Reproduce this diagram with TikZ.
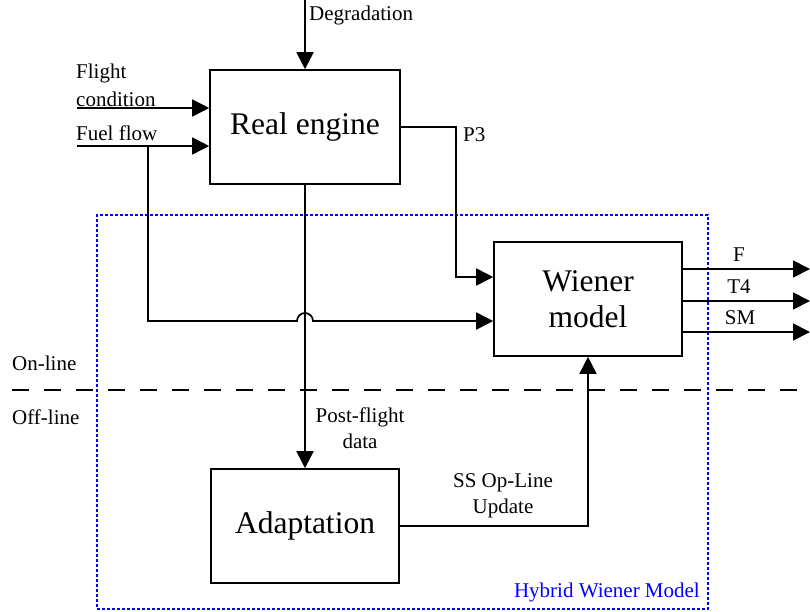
\documentclass[tikz,border=0pt]{standalone}
\usepackage{fontspec}
\setmainfont{Liberation Serif}
\usetikzlibrary{arrows.meta,calc}
\begin{document}
\begin{tikzpicture}[x=1pt,y=-1pt,
  blockbox/.style={draw,line width=1.6pt,inner sep=0pt,
    minimum width=188pt,minimum height=114pt,
    font=\fontsize{31.5}{36}\selectfont,align=center},
  arr/.style={line width=1.7pt,-{Triangle[length=17pt,width=17pt]}},
  lbl/.style={font=\fontsize{21}{26}\selectfont,inner sep=0pt,align=center}]
\useasboundingbox (0,0) rectangle (810,611);

% blocks
\node[blockbox,minimum width=190pt] (re) at (305,127) {Real engine};
\node[blockbox] (wm) at (588,299) {Wiener\\model};
\node[blockbox] (ad) at (305,526) {Adaptation};

% hybrid model frame
\node[draw=blue,line width=1.5pt,dash pattern=on 3pt off 2pt,
      minimum width=611pt,minimum height=394pt,inner sep=0pt] (hy) at (402.5,412) {};
\node[lbl,text=blue,anchor=east] (hyl) at (700,592) {Hybrid Wiener Model};

% on-line / off-line separator
\coordinate (sepL) at (12,390);
\coordinate (sepR) at (810,390);
\draw[line width=2pt,dash pattern=on 17pt off 15pt] (sepL) -- (sepR);
\node[lbl,anchor=west] (onl) at (12,363) {On-line};
\node[lbl,anchor=west] (offl) at (12,417) {Off-line};

% inputs of the real engine
\coordinate (deg) at (305,0);
\draw[arr] (deg) -- (re.north);
\node[lbl,anchor=west] (degl) at (309,15) {Degradation};

\coordinate (fc) at (77,108);
\draw[arr] (fc) -- (fc -| re.west);
\node[lbl,anchor=west] (fcl1) at (76,73) {Flight};
\node[lbl,anchor=west] (fcl2) at (76,99) {condition};

\coordinate (ff) at (77,146);
\draw[arr] (ff) -- (ff -| re.west);
\node[lbl,anchor=west] (ffl) at (76,133) {Fuel flow};

% fuel flow branch to the Wiener model, hopping over the engine output
\coordinate (fb) at (148,146);
\draw[arr] (fb) -- (148,321) -- (297,321)
  arc[start angle=180,end angle=0,radius=8pt] -- (wm.west |- 305,321);

% P3 feed
\coordinate (p3c) at (456,127);
\draw[arr] (re.east) -- (p3c) -- (456,277) -- (wm.west |- 456,277);
\node[lbl,anchor=west] (p3l) at (463,135) {P3};

% post-flight data
\draw[arr] (re.south) -- (ad.north);
\node[lbl] (pfl) at (360,428) {Post-flight\\data};

% adaptation update
\draw[arr] (ad.east) -| (wm.south);
\node[lbl] (ssl) at (503,496) {SS Op-Line\\Update};

% outputs
\coordinate (oF) at (810,269);
\coordinate (oT) at (810,301);
\coordinate (oS) at (810,332);
\draw[arr] (wm.east |- oF) -- (oF);
\draw[arr] (wm.east |- oT) -- (oT);
\draw[arr] (wm.east |- oS) -- (oS);
\node[lbl] (fl) at (739,255) {F};
\node[lbl] (tl) at (739,287) {T4};
\node[lbl] (sl) at (740,318) {SM};
\end{tikzpicture}
\end{document}
